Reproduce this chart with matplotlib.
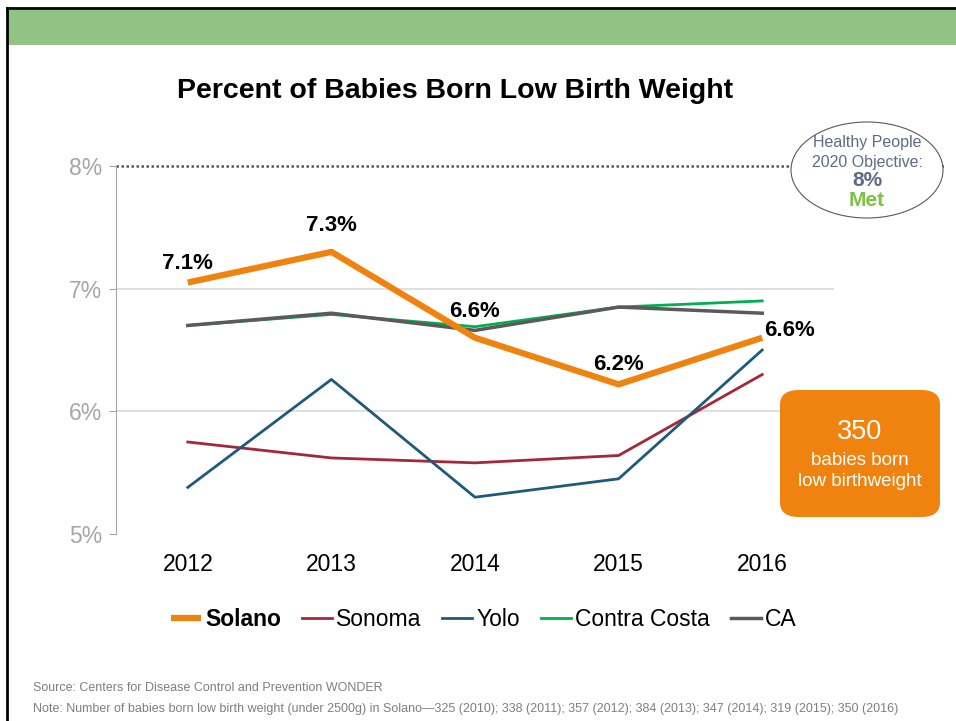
"""
Low birth weight chart - Solano vs neighbours
"""

import matplotlib.pyplot as plt
from matplotlib.patches import Ellipse, FancyBboxPatch

plt.rcParams['font.family'] = ['Liberation Sans', 'DejaVu Sans']

years = ["2012", "2013", "2014", "2015", "2016"]
solano = [7.05, 7.30, 6.60, 6.22, 6.60]
solano_labels = ["7.1%", "7.3%", "6.6%", "6.2%", "6.6%"]
sonoma = [5.75, 5.62, 5.58, 5.64, 6.30]
yolo = [5.38, 6.26, 5.30, 5.45, 6.50]
contra_costa = [6.70, 6.79, 6.69, 6.85, 6.90]
ca = [6.70, 6.80, 6.66, 6.85, 6.80]
y_ticks = [5, 6, 7, 8]

W, H = 956, 721
fig = plt.figure(figsize=(W / 100, H / 100), dpi=100)


def fx(px):
    return px / W


def fy(py):
    return 1 - py / H


# slide frame + green header band
fig.add_artist(plt.Rectangle((fx(8), fy(45)), 1 - fx(8), fy(10) - fy(45),
                             transform=fig.transFigure, color="#91c384", lw=0))
fig.add_artist(plt.Line2D([fx(7), 1], [fy(8), fy(8)], color="black", lw=2))
fig.add_artist(plt.Line2D([fx(7), fx(7)], [fy(8), 0], color="black", lw=2))

ax = fig.add_axes([fx(116), fy(534), fx(834) - fx(116), fy(166) - fy(534)])
x = list(range(len(years)))

ax.plot(x, sonoma, color="#a3283a", lw=2, label="Sonoma")
ax.plot(x, yolo, color="#1f5a7a", lw=2, label="Yolo")
ax.plot(x, contra_costa, color="#00b050", lw=2, label="Contra Costa")
ax.plot(x, ca, color="#5a5a5a", lw=2.5, label="CA")
ax.plot(x, solano, color="#f0820f", lw=4.5, label="Solano",
        solid_capstyle="butt", zorder=5)

# data labels on Solano (offsets in points)
offsets = [(0, 14), (0, 19), (0, 19), (0, 14), (20, 5)]
for xi, yi, lab, (dx, dy) in zip(x, solano, solano_labels, offsets):
    ax.annotate(lab, (xi, yi), xytext=(dx, dy), textcoords="offset points",
                ha="center", va="center", fontsize=16, fontweight="bold")

ax.set_xlim(-0.5, 4.5)
ax.set_ylim(5, 8)
ax.set_xticks(x)
ax.set_xticklabels(years, fontsize=16.5)
ax.set_yticks(y_ticks)
ax.set_yticklabels([f"{v}%" for v in y_ticks], fontsize=16.5, color="#a6a6a6")
ax.tick_params(axis="x", length=0, pad=14)
ax.tick_params(axis="y", length=5, color="#a6a6a6", pad=5)
for s in ["top", "right", "bottom"]:
    ax.spines[s].set_visible(False)
ax.spines["left"].set_color("#a6a6a6")
for g in [6, 7]:
    ax.axhline(g, color="#d9d9d9", lw=1.2, zorder=0)
ax.axhline(8, xmin=0, xmax=(945 - 116) / (834 - 116), color="#595959",
           lw=1.8, ls=(0, (1, 1)), clip_on=False, zorder=1)

# title
fig.text(fx(455), fy(91), "Percent of Babies Born Low Birth Weight",
         ha="center", va="center", fontsize=20.5, fontweight="bold")

# Healthy People ellipse
fig.add_artist(Ellipse((fx(867), fy(170)), fx(152), 96 / H,
                       transform=fig.transFigure, facecolor="white",
                       edgecolor="#595959", lw=0.8, zorder=10))
fig.text(fx(867), fy(143), "Healthy People", ha="center", va="center",
         fontsize=11.5, color="#5f6a84", zorder=11)
fig.text(fx(867), fy(162), "2020 Objective:", ha="center", va="center",
         fontsize=11.5, color="#5f6a84", zorder=11)
fig.text(fx(867), fy(181), "8%", ha="center", va="center",
         fontsize=15, fontweight="bold", color="#5f6a84", zorder=11)
fig.text(fx(867), fy(201), "Met", ha="center", va="center",
         fontsize=15, fontweight="bold", color="#7cc243", zorder=11)

# orange callout box
fig.add_artist(FancyBboxPatch((fx(780), fy(517)), fx(160), fy(390) - fy(517),
                              boxstyle="round,pad=0,rounding_size=0.02",
                              transform=fig.transFigure, facecolor="#f0820f",
                              edgecolor="none", zorder=10))
fig.text(fx(860), fy(432), "350", ha="center", va="center",
         fontsize=19.5, color="white", zorder=11)
fig.text(fx(860), fy(460), "babies born", ha="center", va="center",
         fontsize=13.5, color="white", zorder=11)
fig.text(fx(860), fy(481), "low birthweight", ha="center", va="center",
         fontsize=13.5, color="white", zorder=11)

# legend
handles, labels = ax.get_legend_handles_labels()
order = [4, 0, 1, 2, 3]
leg = fig.legend([handles[i] for i in order], [labels[i] for i in order],
                 loc="center", bbox_to_anchor=(fx(484), fy(620)), ncol=5,
                 frameon=False, fontsize=16.5, handlelength=1.3,
                 handletextpad=0.2, columnspacing=0.9)
leg.get_texts()[0].set_fontweight("bold")

# footnotes
fig.text(fx(33), fy(688), "Source: Centers for Disease Control and Prevention WONDER",
         fontsize=9, color="#7f7f7f", va="center")
fig.text(fx(33), fy(709), "Note: Number of babies born low birth weight (under 2500g) in Solano\u2014"
         "325 (2010); 338 (2011); 357 (2012); 384 (2013); 347 (2014); 319 (2015); 350 (2016)",
         fontsize=9, color="#7f7f7f", va="center")

fig.savefig("out.png", dpi=100)
